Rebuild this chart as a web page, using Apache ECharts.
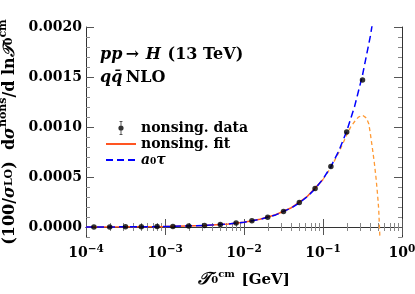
<!DOCTYPE html>
<html><head><meta charset="utf-8">
<script src="https://cdn.jsdelivr.net/npm/echarts@6/dist/echarts.min.js"></script>
<style>html,body{margin:0;padding:0;background:#fff}#c{width:415px;height:294px}</style>
</head><body><div id="c"></div>
<script>
// data points (tau in GeV, value)
var dataTau = [0.0001259,0.0001995,0.0003162,0.0005012,0.0007943,0.001259,0.001995,0.003162,0.005012,0.007943,0.01259,0.01995,0.03162,0.05012,0.07943,0.1259,0.1995,0.3162];
var dataVal = [6e-7,1.0e-6,1.5e-6,2.4e-6,3.8e-6,6.1e-6,9.6e-6,1.6e-5,2.5e-5,3.9e-5,6.2e-5,9.8e-5,1.55e-4,2.45e-4,3.85e-4,6.05e-4,9.5e-4,1.47e-3];
// a0*tau line
var lineTau = [0.0001,0.000316,0.001,0.00316,0.00631,0.01,0.01585,0.02512,0.03981,0.05012,0.0631,0.07943,0.1,0.1259,0.1585,0.1995,0.2512,0.3162,0.3981,0.5012];
var lineVal = [4.8e-7,1.52e-6,4.8e-6,1.52e-5,3.03e-5,4.8e-5,7.61e-5,1.206e-4,1.911e-4,2.406e-4,3.029e-4,3.813e-4,4.8e-4,6.043e-4,7.607e-4,9.577e-4,1.2057e-3,1.5179e-3,1.9109e-3,2.4057e-3];
// fit (fitted range, solid)
var fitTau = [0.0001,0.000316,0.001,0.00316,0.00631,0.01,0.01585,0.02512,0.03981,0.0631,0.1];
var fitVal = [4.8e-7,1.5e-6,4.8e-6,1.53e-5,3.05e-5,4.85e-5,7.7e-5,1.22e-4,1.93e-4,3.05e-4,4.75e-4];
// fit extrapolation (dashed)
var extTau = [0.1,0.1259,0.1585,0.1995,0.2239,0.2512,0.2818,0.3162,0.3548,0.3802,0.3981,0.4266,0.4467,0.4677,0.4898,0.507,0.5248,0.537];
var extVal = [4.75e-4,5.95e-4,7.45e-4,9.2e-4,1.0e-3,1.055e-3,1.1e-3,1.117e-3,1.09e-3,1.03e-3,9.3e-4,7.6e-4,6.4e-4,5.0e-4,3.3e-4,1.8e-4,-1.0e-4,-3.0e-4];
// ticks
var xMajor = [0.0001,0.001,0.01,0.1,1];
var xMinor = [0.0002,0.0003,0.0004,0.0005,0.0006,0.0007,0.0008,0.0009,0.002,0.003,0.004,0.005,0.006,0.007,0.008,0.009,0.02,0.03,0.04,0.05,0.06,0.07,0.08,0.09,0.2,0.3,0.4,0.5,0.6,0.7,0.8,0.9];
var yMajor = [0,0.0005,0.001,0.0015,0.002];
var yMinor = [-0.0001,0.0001,0.0002,0.0003,0.0004,0.0006,0.0007,0.0008,0.0009,0.0011,0.0012,0.0013,0.0014,0.0016,0.0017,0.0018,0.0019];
var yLabels = ['0.0000','0.0005','0.0010','0.0015','0.0020'];
var legendNames = ['nonsing. data','nonsing. fit','a0tau'];

function zip(a,b){return a.map(function(v,i){return [v,b[i]];});}
var SERIF = '"DejaVu Serif", "Liberation Serif", serif';
var axisColor = '#333';

function xAx(pos, ticks, len, line, labels){
  return {type:'log', logBase:10, min:0.0001, max:1, gridIndex:0, position:pos,
    axisLine:{show:line, lineStyle:{color:axisColor, width:1}},
    axisTick:{show:true, inside:true, length:len, customValues:ticks, lineStyle:{color:len>5?'#555':'#888', width:1}},
    axisLabel:labels?{show:true, customValues:xMajor, margin:7,
      formatter:function(v){var e=Math.round(Math.log10(v));return '{b|10}{s|'+(e<0?'\u2212':'')+Math.abs(e)+'}';},
      rich:{b:{fontFamily:SERIF,fontWeight:'bold',fontSize:14,color:'#000'},s:{fontFamily:SERIF,fontWeight:'bold',fontSize:10.5,color:'#000',padding:[0,0,8,0]}}}:{show:false},
    splitLine:{show:false}, minorTick:{show:false}};
}
function yAx(pos, ticks, len, line, labels){
  return {type:'value', min:-0.0001, max:0.002, gridIndex:0, position:pos,
    axisLine:{show:line, lineStyle:{color:axisColor, width:1}},
    axisTick:{show:true, inside:true, length:len, customValues:ticks, lineStyle:{color:len>5?'#555':'#888', width:1}},
    axisLabel:labels?{show:true, customValues:yMajor, margin:4,
      formatter:function(v){var i=yMajor.indexOf(v);return i>=0?yLabels[i]:'';},
      fontFamily:SERIF, fontWeight:'bold', fontSize:14, color:'#000'}:{show:false},
    splitLine:{show:false}};
}

var xa = [xAx('bottom', xMajor, 8, true, true), xAx('bottom', xMinor, 4, false, false), xAx('top', xMajor, 8, true, false), xAx('top', xMinor, 4, false, false)];
xa[0].name = '{i|\u{1D4AF}}{sub|0}{sup|cm}  {n|[GeV]}';
xa[0].nameLocation = 'middle';
xa[0].nameGap = 32;
xa[0].nameTextStyle = {rich:{
  i:{fontFamily:SERIF,fontWeight:'bold',fontStyle:'italic',fontSize:17,color:'#000'},
  sub:{fontFamily:SERIF,fontWeight:'bold',fontSize:10,color:'#000'},
  sup:{fontFamily:SERIF,fontWeight:'bold',fontSize:10,color:'#000',padding:[0,0,12,0]},
  n:{fontFamily:SERIF,fontWeight:'bold',fontSize:15,color:'#000'}}};
var ya = [yAx('left', yMajor, 8, true, true), yAx('left', yMinor, 4, false, false), yAx('right', yMajor, 8, true, false), yAx('right', yMinor, 4, false, false)];
ya[0].name = '{n|(100/}{i|\u03C3}{sub|LO}{n|)  d}{i|\u03C3}{sup|nons}{n|/d ln}{i|\u{1D4AF}}{sub|0}{sup|cm}';
ya[0].nameLocation = 'middle';
ya[0].nameRotate = 90;
ya[0].nameGap = 62;
ya[0].nameTextStyle = {rich:{
  n:{fontFamily:SERIF,fontWeight:'bold',fontSize:16,color:'#000'},
  i:{fontFamily:SERIF,fontWeight:'bold',fontStyle:'italic',fontSize:16,color:'#000'},
  sub:{fontFamily:SERIF,fontWeight:'bold',fontSize:11,color:'#000'},
  sup:{fontFamily:SERIF,fontWeight:'bold',fontSize:11,color:'#000',padding:[0,0,12,0]}}};

var dataIcon = 'path://M0,7 L0.01,7 L0,7.01 Z M30,7 L29.99,7 L30,7.01 Z M14.6,0 H15.4 V14 H14.6 Z M13.5,0 H16.5 V0.8 H13.5 Z M13.5,13.2 H16.5 V14 H13.5 Z M17.6,7 A2.6,2.6 0 1 1 12.4,7 A2.6,2.6 0 1 1 17.6,7 Z';

var option = {
  animation:false,
  backgroundColor:'#fff',
  grid:{left:86, right:13, top:27, bottom:57, containLabel:false, outerBoundsMode:'none'},
  xAxis:xa, yAxis:ya,
  legend:{orient:'vertical', left:100, top:116, itemWidth:30, itemHeight:14, itemGap:2,
    data:[{name:legendNames[0], icon:dataIcon},
          {name:legendNames[1], itemStyle:{opacity:0}},
          {name:legendNames[2], itemStyle:{opacity:0}}],
    formatter:function(n){return n==='a0tau'?'{i|a}{sub|0}{i|\u03C4}':'{n|'+n+'}';},
    textStyle:{rich:{
      n:{fontFamily:SERIF,fontWeight:'bold',fontSize:14,color:'#000'},
      i:{fontFamily:SERIF,fontWeight:'bold',fontStyle:'italic',fontSize:14,color:'#000'},
      sub:{fontFamily:SERIF,fontWeight:'bold',fontSize:9,color:'#000',padding:[4,0,0,0]}}}},
  graphic:[
    {type:'text', left:100, top:47, style:{rich:{
      i:{fontFamily:SERIF,fontWeight:'bold',fontStyle:'italic',fontSize:16,fill:'#000'},
      n:{fontFamily:SERIF,fontWeight:'bold',fontSize:16,fill:'#000'}},
      text:'{i|pp} {n|\u2192}  {i|H}  {n|(13 TeV)}'}},
    {type:'text', left:100, top:70, style:{rich:{
      i:{fontFamily:SERIF,fontWeight:'bold',fontStyle:'italic',fontSize:16,fill:'#000'},
      n:{fontFamily:SERIF,fontWeight:'bold',fontSize:16,fill:'#000'}},
      text:'{i|q\u0071\u0304} {n|NLO}'}}
  ],
  series:[
    {name:legendNames[1], type:'line', xAxisIndex:0, yAxisIndex:0, data:zip(fitTau,fitVal), showSymbol:false, symbol:'none',
      lineStyle:{color:'#ff5522', width:1.5, type:'solid'}, itemStyle:{color:'#ff5522'}, z:2},
    {name:'ext', type:'line', xAxisIndex:0, yAxisIndex:0, data:zip(extTau,extVal), showSymbol:false, symbol:'none',
      lineStyle:{color:'#ff9933', width:1.3, type:[4,3]}, itemStyle:{color:'#ff9933'}, z:2, clip:true},
    {name:legendNames[2], type:'line', xAxisIndex:0, yAxisIndex:0, data:zip(lineTau,lineVal), showSymbol:false, symbol:'none',
      lineStyle:{color:'#0000ff', width:1.5, type:[7,4]}, itemStyle:{color:'#0000ff'}, z:3, clip:true},
    {name:legendNames[0], type:'scatter', xAxisIndex:0, yAxisIndex:0, data:zip(dataTau,dataVal), symbol:'circle', symbolSize:5.5,
      itemStyle:{color:'#000'}, z:4}
  ]
};
echarts.init(document.getElementById('c')).setOption(option);
</script></body></html>
